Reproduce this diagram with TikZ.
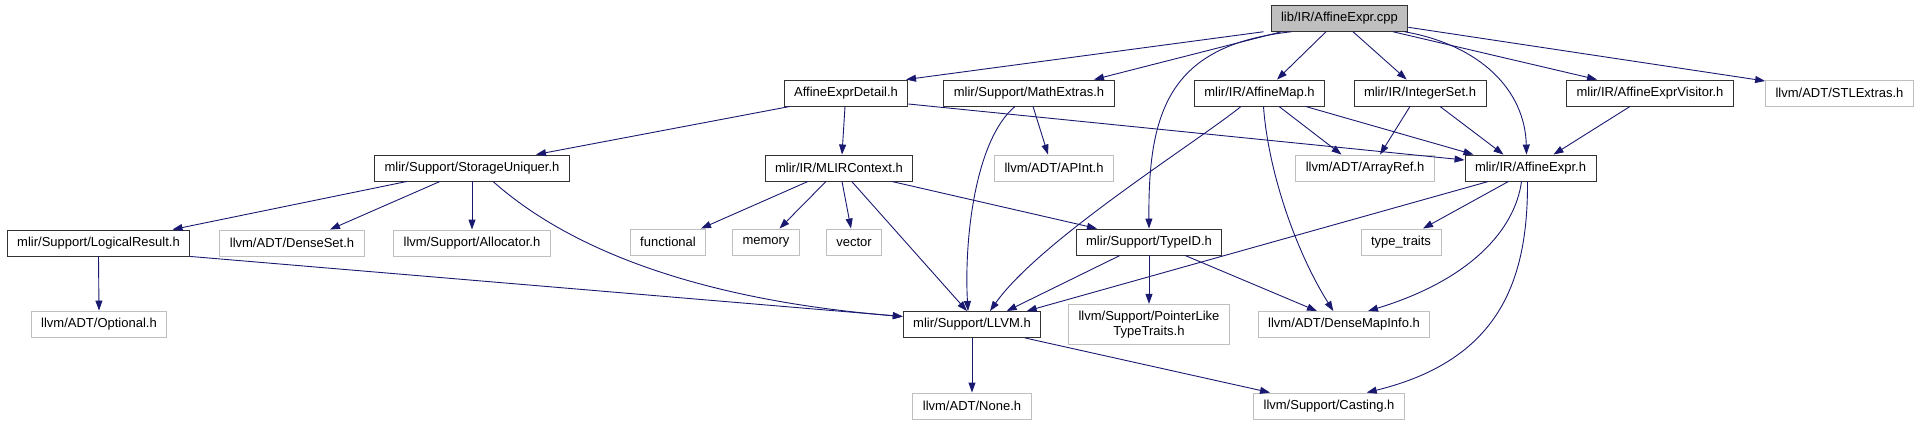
\documentclass[tikz,border=0pt]{standalone}
\usepackage{fontspec}
\setmainfont{Liberation Sans}
\usetikzlibrary{arrows.meta}
\definecolor{edgeblue}{HTML}{191970}
\definecolor{lightframe}{HTML}{BFBFBF}

\begin{document}
\begin{tikzpicture}[x=1pt,y=-1pt,
  hdr/.style={draw=black!80, line width=0.9pt, minimum height=26pt, inner xsep=10pt, inner ysep=0pt, font=\fontsize{13}{15}\selectfont},
  sys/.style={hdr, draw=lightframe},
  root/.style={hdr, fill=lightframe},
  inc/.style={edgeblue, line width=0.9pt, -{Triangle[length=10pt,width=7pt]}}]
  \useasboundingbox (0,0) rectangle (1923,425);

  \node[root] (cpp) at (1339.5,18.3) {lib/IR/AffineExpr.cpp};

  \node[hdr] (detail)  at (846,93)    {AffineExprDetail.h};
  \node[hdr] (math)    at (1029,93)   {mlir/Support/MathExtras.h};
  \node[hdr] (affmap)  at (1259.5,93) {mlir/IR/AffineMap.h};
  \node[hdr] (intset)  at (1420,93)   {mlir/IR/IntegerSet.h};
  \node[hdr] (visitor) at (1650,93)   {mlir/IR/AffineExprVisitor.h};
  \node[sys] (stl)     at (1839.5,93) {llvm/ADT/STLExtras.h};

  \node[hdr] (storage)  at (472,168)    {mlir/Support/StorageUniquer.h};
  \node[hdr] (ctx)      at (839,168)    {mlir/IR/MLIRContext.h};
  \node[sys] (apint)    at (1054,168)   {llvm/ADT/APInt.h};
  \node[sys] (arrayref) at (1365,168)   {llvm/ADT/ArrayRef.h};
  \node[hdr] (affexpr)  at (1530.5,168) {mlir/IR/AffineExpr.h};

  \node[hdr] (logical)    at (98.5,243) {mlir/Support/LogicalResult.h};
  \node[sys] (denseset)   at (292,243)  {llvm/ADT/DenseSet.h};
  \node[sys] (alloc)      at (472,243)  {llvm/Support/Allocator.h};
  \node[sys] (functional) at (668,242)  {functional};
  \node[sys] (memory)     at (766,242)  {memory};
  \node[sys] (vector)     at (854,242)  {vector};
  \node[hdr] (typeid)     at (1149,242) {mlir/Support/TypeID.h};
  \node[sys] (traits)     at (1401,242) {type\_traits};

  \node[sys] (optional) at (99,324)     {llvm/ADT/Optional.h};
  \node[hdr] (llvm)     at (972,324.5)  {mlir/Support/LLVM.h};
  \node[sys, align=center, minimum height=40pt] (pointer) at (1149,324.3) {llvm/Support/PointerLike\\TypeTraits.h};
  \node[sys] (densemap) at (1344,324.5) {llvm/ADT/DenseMapInfo.h};

  \node[sys] (none)    at (972,406)  {llvm/ADT/None.h};
  \node[sys] (casting) at (1329,406) {llvm/Support/Casting.h};

  \draw[inc] ([xshift=-76]cpp.south) -- ([xshift=60]detail.north);
  \draw[inc] ([xshift=-58]cpp.south) -- ([xshift=65]math.north);
  \draw[inc] ([xshift=-48]cpp.south) .. controls (1170,45) and (1148,110) .. (typeid.north);
  \draw[inc] ([xshift=-13.5]cpp.south) -- ([xshift=17.5]affmap.north);
  \draw[inc] ([xshift=13.5]cpp.south) -- ([xshift=-13.3]intset.north);
  \draw[inc] ([xshift=65]cpp.south) .. controls (1480,45) and (1525,90) .. ([xshift=-4]affexpr.north);
  \draw[inc] ([xshift=53.5]cpp.south) -- ([xshift=-53]visitor.north);
  \draw[inc] ([yshift=-9]cpp.east) -- ([yshift=12]stl.west);

  \draw[inc] ([xshift=-56]detail.south) -- ([xshift=64]storage.north);
  \draw[inc] ([xshift=-1]detail.south) -- ([xshift=3]ctx.north);
  \draw[inc] ([yshift=-11]detail.east) -- ([yshift=8]affexpr.west);

  \draw[inc] ([xshift=-14]math.south) .. controls (975,140) and (964,240) .. ([xshift=-4]llvm.north);
  \draw[inc] ([xshift=4]math.south) -- ([xshift=-6]apint.north);

  \draw[inc] ([xshift=-18.5]affmap.south) .. controls (1200,140) and (1040,240) .. ([xshift=18]llvm.north);
  \draw[inc] ([xshift=4]affmap.south) .. controls (1268,170) and (1295,250) .. ([xshift=-10.7]densemap.north);
  \draw[inc] ([xshift=19.5]affmap.south) -- ([xshift=-23.5]arrayref.north);
  \draw[inc] ([xshift=46]affmap.south) -- ([xshift=-57]affexpr.north);

  \draw[inc] ([xshift=-10]intset.south) -- ([xshift=15]arrayref.north);
  \draw[inc] ([xshift=20]intset.south) -- ([xshift=-27]affexpr.north);
  \draw[inc] ([xshift=-20]visitor.south) -- ([xshift=23]affexpr.north);

  \draw[inc] ([xshift=-65]storage.south) -- ([xshift=74]logical.north);
  \draw[inc] ([xshift=-32]storage.south) -- ([xshift=38]denseset.north);
  \draw[inc] (storage.south) -- (alloc.north);
  \draw[inc] ([xshift=21]storage.south) .. controls (570,250) and (700,300) .. ([yshift=8]llvm.west);

  \draw[inc] ([xshift=-31]ctx.south) -- ([xshift=33]functional.north);
  \draw[inc] ([xshift=-13]ctx.south) -- ([xshift=13.5]memory.north);
  \draw[inc] ([xshift=3]ctx.south) -- ([xshift=-3]vector.north);
  \draw[inc] ([xshift=12.7]ctx.south) -- ([xshift=-5]llvm.north);
  \draw[inc] ([xshift=52.7]ctx.south) -- ([xshift=-52]typeid.north);

  \draw[inc] ([xshift=-42]affexpr.south) -- ([xshift=54.7]llvm.north);
  \draw[inc] ([xshift=-22]affexpr.south) -- ([xshift=22]traits.north);
  \draw[inc] ([xshift=-9]affexpr.south) .. controls (1515,230) and (1470,280) .. ([xshift=24]densemap.north);
  \draw[inc] ([xshift=-3]affexpr.south) .. controls (1528,280) and (1500,360) .. ([xshift=37.7]casting.north);

  \draw[inc] (logical.south) -- (optional.north);
  \draw[inc] (logical.south east) -- ([yshift=8]llvm.west);

  \draw[inc] ([xshift=-29]typeid.south) -- ([xshift=34.7]llvm.north);
  \draw[inc] (typeid.south) -- (pointer.north);
  \draw[inc] ([xshift=36]typeid.south) -- ([xshift=-27]densemap.north);

  \draw[inc] (llvm.south) -- (none.north);
  \draw[inc] ([xshift=53]llvm.south) -- ([xshift=-59]casting.north);
\end{tikzpicture}
\end{document}
